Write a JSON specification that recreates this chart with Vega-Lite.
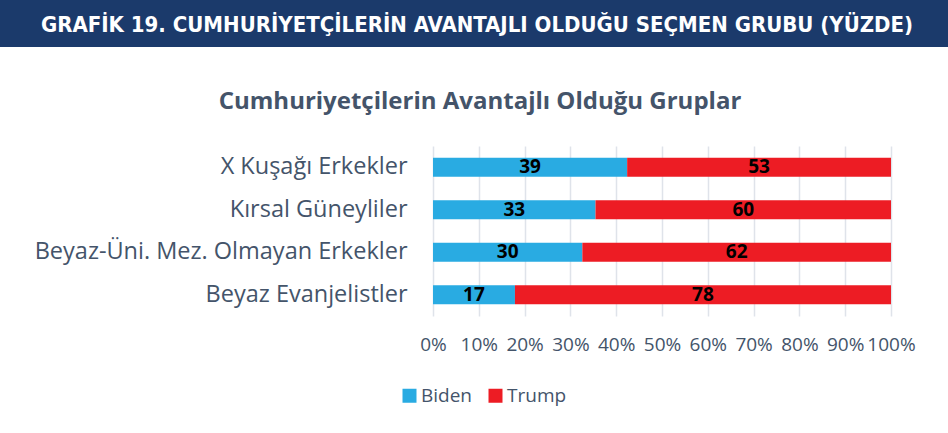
{
  "$schema": "https://vega.github.io/schema/vega-lite/v6.json",
  "padding": 0,
  "spacing": 43,
  "background": "white",
  "config": {"view": {"stroke": null}},
  "resolve": {"legend": {"color": "independent"}},
  "vconcat": [
    {
      "width": 948,
      "height": 47,
      "view": {"fill": "#1b3a6b", "stroke": null},
      "data": {"values": [{"t": "GRAFİK 19. CUMHURİYETÇİLERİN AVANTAJLI OLDUĞU SEÇMEN GRUBU (YÜZDE)"}]},
      "mark": {"type": "text", "font": "DejaVu Sans Condensed, Liberation Sans", "fontWeight": "bold", "fontSize": 22, "color": "white", "dx": 3, "dy": 1},
      "encoding": {"text": {"field": "t", "type": "nominal"}}
    },
    {
      "width": 891,
      "height": 170,
      "title": {"text": "Cumhuriyetçilerin Avantajlı Olduğu Gruplar", "font": "Open Sans", "fontSize": 24, "fontWeight": "bold", "color": "#44546a", "anchor": "middle", "frame": "group", "dx": 34.5, "offset": 32},
      "data": {"values": [
        {"group": "X Kuşağı Erkekler", "party": "Biden", "value": 39},
        {"group": "X Kuşağı Erkekler", "party": "Trump", "value": 53},
        {"group": "Kırsal Güneyliler", "party": "Biden", "value": 33},
        {"group": "Kırsal Güneyliler", "party": "Trump", "value": 60},
        {"group": "Beyaz-Üni. Mez. Olmayan Erkekler", "party": "Biden", "value": 30},
        {"group": "Beyaz-Üni. Mez. Olmayan Erkekler", "party": "Trump", "value": 62},
        {"group": "Beyaz Evanjelistler", "party": "Biden", "value": 17},
        {"group": "Beyaz Evanjelistler", "party": "Trump", "value": 78}
      ]},
      "transform": [
        {"stack": "value", "groupby": ["group"], "sort": [{"field": "party", "order": "ascending"}], "offset": "normalize", "as": ["v0", "v1"]},
        {"calculate": "(datum.v0 + datum.v1) / 2", "as": "mid"}
      ],
      "encoding": {
        "y": {
          "field": "group", "type": "nominal",
          "sort": ["X Kuşağı Erkekler", "Kırsal Güneyliler", "Beyaz-Üni. Mez. Olmayan Erkekler", "Beyaz Evanjelistler"],
          "scale": {"paddingInner": 0.55, "paddingOuter": 0.275},
          "axis": {"title": null, "domain": false, "ticks": false, "offset": -407, "labelPadding": 0, "labelFont": "Open Sans", "labelFontSize": 23.5, "labelColor": "#44546a", "labelLimit": 600}
        }
      },
      "layer": [
        {
          "mark": {"type": "bar"},
          "encoding": {
            "x": {"field": "v0", "type": "quantitative", "scale": {"domain": [-0.94541, 1], "nice": false, "zero": false},
              "axis": {"title": null, "format": ".0%", "values": [0, 0.1, 0.2, 0.3, 0.4, 0.5, 0.6, 0.7, 0.8, 0.9, 1], "domain": false, "ticks": false, "grid": true, "gridColor": "#dfe3ea", "gridWidth": 1.5, "labelFont": "Open Sans", "labelFontSize": 19, "labelColor": "#44546a", "labelPadding": 19, "labelFlush": false, "labelOverlap": false}},
            "x2": {"field": "v1"},
            "color": {"field": "party", "type": "nominal",
              "scale": {"domain": ["Biden", "Trump"], "range": ["#29abe2", "#ed1c24"]},
              "legend": {"title": null, "orient": "none", "legendX": 400, "legendY": 240, "direction": "horizontal", "symbolType": "square", "symbolSize": 196, "symbolStrokeWidth": 0, "labelFont": "Open Sans", "labelFontSize": 19, "labelColor": "#44546a", "labelOffset": 2, "labelLimit": 200, "columnPadding": 13}}
          }
        },
        {
          "mark": {"type": "text", "font": "Open Sans", "fontWeight": "bold", "fontSize": 19, "color": "black"},
          "encoding": {
            "x": {"field": "mid", "type": "quantitative"},
            "text": {"field": "value", "type": "quantitative"}
          }
        }
      ]
    }
  ]
}
